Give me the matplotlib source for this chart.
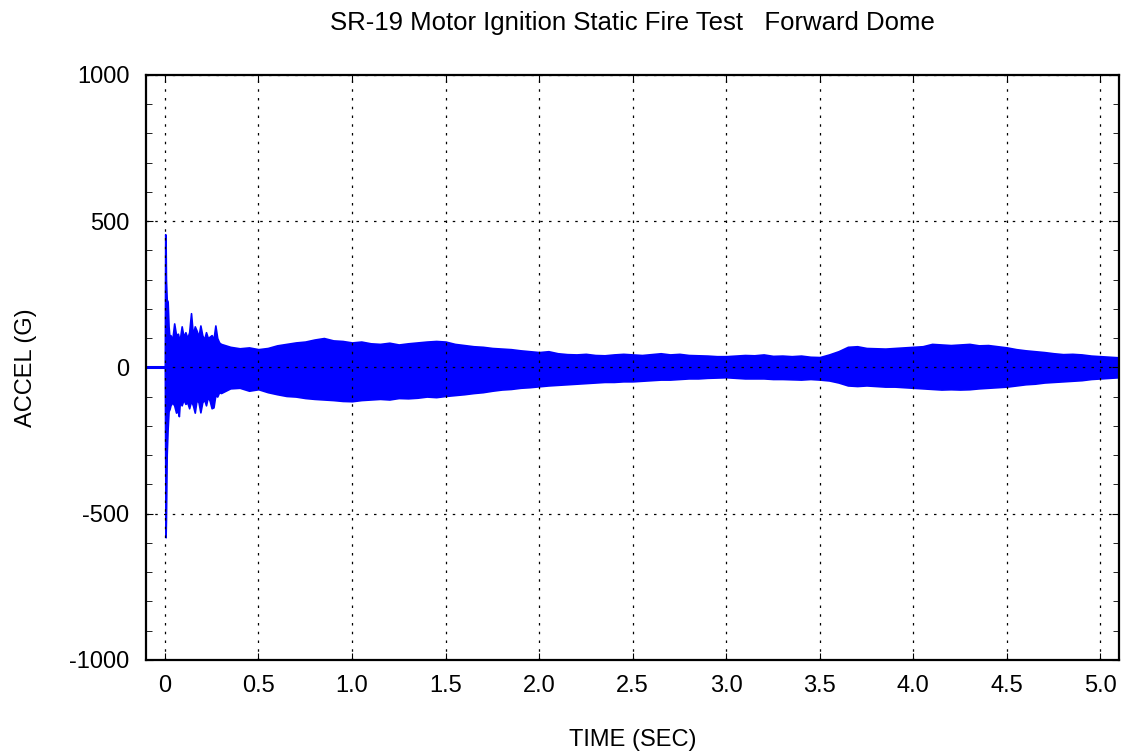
import numpy as np
import matplotlib.pyplot as plt
from matplotlib.ticker import MultipleLocator, FixedLocator

plt.rcParams['font.family'] = ['Liberation Sans', 'DejaVu Sans']
plt.rcParams['axes.unicode_minus'] = False

# envelope of the accelerometer trace (time in s, accel in G)
time_s = [-0.100, 0.000, 0.002, 0.004, 0.006, 0.010, 0.015, 0.020, 0.025, 0.030,
          0.040, 0.050, 0.060, 0.070, 0.075, 0.080, 0.090, 0.100, 0.110, 0.120,
          0.130, 0.140, 0.150, 0.160, 0.170, 0.180, 0.190, 0.200, 0.210, 0.220,
          0.230, 0.240, 0.250, 0.260, 0.270, 0.280, 0.290, 0.300,
          0.35, 0.40, 0.45, 0.50, 0.55, 0.60, 0.65, 0.70, 0.75, 0.80,
          0.85, 0.90, 0.95, 1.00, 1.05, 1.10, 1.15, 1.20, 1.25, 1.30,
          1.35, 1.40, 1.45, 1.50, 1.55, 1.60, 1.65, 1.70, 1.75, 1.80,
          1.85, 1.90, 1.95, 2.00, 2.05, 2.10, 2.15, 2.20, 2.25, 2.30,
          2.35, 2.40, 2.45, 2.50, 2.55, 2.60, 2.65, 2.70, 2.75, 2.80,
          2.85, 2.90, 2.95, 3.00, 3.05, 3.10, 3.15, 3.20, 3.25, 3.30,
          3.35, 3.40, 3.45, 3.50, 3.55, 3.60, 3.65, 3.70, 3.75, 3.80,
          3.85, 3.90, 3.95, 4.00, 4.05, 4.10, 4.15, 4.20, 4.25, 4.30,
          4.35, 4.40, 4.45, 4.50, 4.55, 4.60, 4.65, 4.70, 4.75, 4.80,
          4.85, 4.90, 4.95, 5.00, 5.05, 5.10]

accel_hi = [0, 0, 455, 440, 300, 232, 225, 140, 100, 110,
            95, 150, 110, 115, 100, 95, 140, 105, 120, 100,
            120, 185, 110, 140, 125, 105, 143, 110, 95, 120,
            100, 105, 110, 95, 143, 100, 85, 80,
            70, 65, 68, 62, 66, 75, 80, 85, 88, 95,
            100, 92, 90, 85, 88, 82, 80, 84, 78, 82,
            85, 88, 90, 88, 80, 76, 72, 70, 66, 64,
            62, 58, 55, 52, 55, 48, 45, 44, 46, 42,
            41, 44, 46, 44, 42, 45, 48, 44, 46, 42,
            41, 40, 38, 38, 40, 42, 41, 44, 39, 40,
            38, 40, 36, 35, 44, 55, 70, 72, 66, 65,
            64, 66, 68, 70, 72, 80, 78, 76, 78, 80,
            75, 76, 72, 68, 62, 58, 55, 52, 48, 45,
            46, 44, 40, 38, 36, 34]

accel_lo = [0, 0, -300, -581, -520, -298, -210, -150, -143, -130,
            -120, -130, -155, -150, -167, -120, -130, -110, -125, -120,
            -140, -115, -130, -155, -110, -120, -154, -120, -110, -130,
            -100, -115, -140, -137, -95, -100, -85, -88,
            -72, -70, -80, -75, -85, -92, -98, -100, -105, -108,
            -110, -112, -115, -116, -112, -110, -108, -110, -105, -106,
            -104, -100, -102, -98, -95, -92, -88, -85, -80, -76,
            -74, -70, -68, -65, -62, -60, -58, -56, -54, -52,
            -50, -50, -48, -48, -46, -44, -42, -42, -40, -38,
            -38, -36, -35, -34, -36, -38, -38, -38, -40, -40,
            -41, -42, -40, -42, -45, -52, -62, -64, -62, -64,
            -66, -66, -68, -70, -72, -74, -76, -75, -76, -75,
            -72, -70, -68, -66, -62, -58, -56, -52, -50, -48,
            -46, -44, -40, -38, -36, -34]

x_ticks = [0, 0.5, 1.0, 1.5, 2.0, 2.5, 3.0, 3.5, 4.0, 4.5, 5.0]
x_labels = ['0', '0.5', '1.0', '1.5', '2.0', '2.5', '3.0', '3.5', '4.0', '4.5', '5.0']
y_ticks = [-1000, -500, 0, 500, 1000]

fig = plt.figure(figsize=(11.24, 7.55), dpi=100)
ax = fig.add_axes([0.130, 0.126, 0.8657, 0.775])

ax.fill_between(time_s, accel_lo, accel_hi, color='blue', linewidth=1.2,
                edgecolor='blue')
# flat trace before ignition
ax.plot(time_s[:2], accel_hi[:2], color='blue', linewidth=2.2)

ax.set_xlim(-0.1, 5.1)
ax.set_ylim(-1000, 1000)
ax.xaxis.set_major_locator(FixedLocator(x_ticks))
ax.set_xticklabels(x_labels)
ax.yaxis.set_major_locator(FixedLocator(y_ticks))
ax.yaxis.set_minor_locator(MultipleLocator(100))

ax.grid(True, which='major', color='black', linestyle=(0, (2, 5)), linewidth=0.9)
ax.tick_params(which='both', direction='in', top=True, right=True,
               labelsize=17, color='black')
ax.tick_params(axis='y', pad=12)
ax.tick_params(axis='x', pad=11)
ax.tick_params(which='major', length=5)
ax.tick_params(which='minor', length=4)
for sp in ax.spines.values():
    sp.set_linewidth(1.6)

ax.set_xlabel('TIME (SEC)', fontsize=17, labelpad=23)
ax.set_ylabel('ACCEL (G)', fontsize=17, labelpad=23)
ax.set_title('SR-19 Motor Ignition Static Fire Test   Forward Dome',
             fontsize=18.5, pad=32)

fig.savefig('out.png', dpi=100)
